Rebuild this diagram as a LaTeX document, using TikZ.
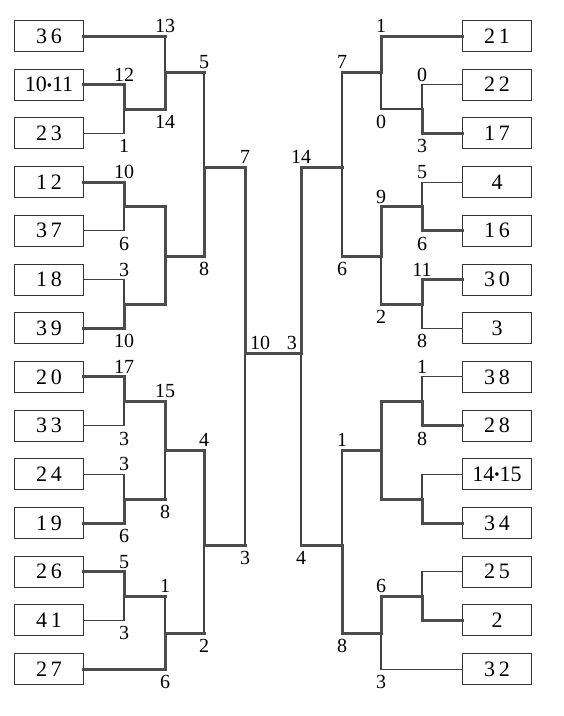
\documentclass[tikz,border=0pt]{standalone}
\usepackage{fontspec}
\setmainfont{Liberation Serif}
\usetikzlibrary{positioning, calc}

\newcommand{\joint}{{\fontsize{15}{15}\selectfont\raisebox{1.5pt}{•}}}

\begin{document}
\begin{tikzpicture}[x=1pt, y=-1pt,
    team/.style={draw=black!80, line width=0.9pt, minimum width=69pt,
      minimum height=31pt, inner sep=0pt, outer sep=0pt,
      font=\fontsize{22}{22}\selectfont},
    score/.style={inner sep=1pt, font=\fontsize{20}{20}\selectfont},
    win/.style={draw=black!70, line width=3pt, line cap=rect},
    lose/.style={draw=black!75, line width=1.1pt}]
  \useasboundingbox (0,0) rectangle (564,716);

  % left teams
  \node[team] (l1) at (49,36) {3\,6};
  \node[team, below=17.7pt of l1] (l2) {10\joint 11};
  \node[team, below=17.7pt of l2] (l3) {2\,3};
  \node[team, below=17.7pt of l3] (l4) {1\,2};
  \node[team, below=17.7pt of l4] (l5) {3\,7};
  \node[team, below=17.7pt of l5] (l6) {1\,8};
  \node[team, below=17.7pt of l6] (l7) {3\,9};
  \node[team, below=17.7pt of l7] (l8) {2\,0};
  \node[team, below=17.7pt of l8] (l9) {3\,3};
  \node[team, below=17.7pt of l9] (l10) {2\,4};
  \node[team, below=17.7pt of l10] (l11) {1\,9};
  \node[team, below=17.7pt of l11] (l12) {2\,6};
  \node[team, below=17.7pt of l12] (l13) {4\,1};
  \node[team, below=17.7pt of l13] (l14) {2\,7};

  % right teams
  \node[team] (r1) at (497,36) {2\,1};
  \node[team, below=17.7pt of r1] (r2) {2\,2};
  \node[team, below=17.7pt of r2] (r3) {1\,7};
  \node[team, below=17.7pt of r3] (r4) {4};
  \node[team, below=17.7pt of r4] (r5) {1\,6};
  \node[team, below=17.7pt of r5] (r6) {3\,0};
  \node[team, below=17.7pt of r6] (r7) {3};
  \node[team, below=17.7pt of r7] (r8) {3\,8};
  \node[team, below=17.7pt of r8] (r9) {2\,8};
  \node[team, below=17.7pt of r9] (r10) {14\joint 15};
  \node[team, below=17.7pt of r10] (r11) {3\,4};
  \node[team, below=17.7pt of r11] (r12) {2\,5};
  \node[team, below=17.7pt of r12] (r13) {2};
  \node[team, below=17.7pt of r13] (r14) {3\,2};

  % junctions
  \coordinate (la1) at (124,109);
  \coordinate (la2) at (124,206.5);
  \coordinate (la3) at (124,304);
  \coordinate (la4) at (124,401);
  \coordinate (la5) at (124,499);
  \coordinate (la6) at (124,596);
  \coordinate (lb1) at (165,72);
  \coordinate (lb2) at (165,256);
  \coordinate (lb3) at (165,450);
  \coordinate (lb4) at (165,633);
  \coordinate (lc1) at (204,167);
  \coordinate (lc2) at (204,545);
  \coordinate (ld) at (245,353);
  \coordinate (ra1) at (422,109);
  \coordinate (ra2) at (422,206.5);
  \coordinate (ra3) at (422,304);
  \coordinate (ra4) at (422,401);
  \coordinate (ra5) at (422,499);
  \coordinate (ra6) at (422,596);
  \coordinate (rb1) at (381,72);
  \coordinate (rb2) at (381,256);
  \coordinate (rb3) at (381,450);
  \coordinate (rb4) at (381,633);
  \coordinate (rc1) at (342,167);
  \coordinate (rc2) at (342,545);
  \coordinate (rd) at (301,353);

  % left half
  \draw[lose] (l1.east -| lb1) -- (lb1);
  \draw[win] (l1.east) -- (l1.east -| lb1);
  \draw[lose] (l3.east) -| (la1);
  \draw[win] (l2.east) -| (la1);
  \draw[win] (la1) -| (lb1);
  \draw[lose] (lb1 -| lc1) -- (lc1);
  \draw[win] (lb1) -- (lb1 -| lc1);
  \draw[lose] (l5.east) -| (la2);
  \draw[win] (l4.east) -| (la2);
  \draw[lose] (l6.east) -| (la3);
  \draw[win] (l7.east) -| (la3);
  \draw[win] (la2) -| (lb2);
  \draw[win] (la3) -| (lb2);
  \draw[win] (lb2) -| (lc1);
  \draw[win] (lc1) -| (ld);
  \draw[lose] (l9.east) -| (la4);
  \draw[win] (l8.east) -| (la4);
  \draw[lose] (l10.east) -| (la5);
  \draw[win] (l11.east) -| (la5);
  \draw[win] (la4) -| (lb3);
  \draw[lose] (la5 -| lb3) -- (lb3);
  \draw[win] (la5) -- (la5 -| lb3);
  \draw[win] (lb3) -| (lc2);
  \draw[lose] (lc2 -| ld) -- (ld);
  \draw[win] (lc2) -- (lc2 -| ld);
  \draw[lose] (l13.east) -| (la6);
  \draw[win] (l12.east) -| (la6);
  \draw[lose] (la6 -| lb4) -- (lb4);
  \draw[win] (la6) -- (la6 -| lb4);
  \draw[win] (l14.east) -| (lb4);
  \draw[lose] (lb4 -| lc2) -- (lc2);
  \draw[win] (lb4) -- (lb4 -| lc2);

  % right half
  \draw[lose] (r2.west) -| (ra1);
  \draw[lose] (ra1) -| (rb1);
  \draw[win] (r3.west) -| (ra1);
  \draw[win] (r1.west) -| (rb1);
  \draw[lose] (rb1 -| rc1) -- (rc1);
  \draw[win] (rb1) -- (rb1 -| rc1);
  \draw[lose] (r4.west) -| (ra2);
  \draw[win] (r5.west) -| (ra2);
  \draw[lose] (r7.west) -| (ra3);
  \draw[win] (r6.west) -| (ra3);
  \draw[win] (ra2) -| (rb2);
  \draw[lose] (ra3 -| rb2) -- (rb2);
  \draw[win] (ra3) -- (ra3 -| rb2);
  \draw[lose] (rb2 -| rc1) -- (rc1);
  \draw[win] (rb2) -- (rb2 -| rc1);
  \draw[win] (rc1) -| (rd);
  \draw[lose] (r8.west) -| (ra4);
  \draw[win] (r9.west) -| (ra4);
  \draw[lose] (r10.west) -| (ra5);
  \draw[win] (r11.west) -| (ra5);
  \draw[win] (ra4) -| (rb3);
  \draw[win] (ra5) -| (rb3);
  \draw[lose] (rb3 -| rc2) -- (rc2);
  \draw[win] (rb3) -- (rb3 -| rc2);
  \draw[lose] (r12.west) -| (ra6);
  \draw[win] (r13.west) -| (ra6);
  \draw[lose] (r14.west) -| (rb4);
  \draw[win] (ra6) -| (rb4);
  \draw[win] (rb4) -| (rc2);
  \draw[lose] (rc2 -| rd) -- (rd);
  \draw[win] (rc2) -- (rc2 -| rd);

  % final
  \draw[win] (ld) -- (rd);

  % scores, left
  \node[score, above=2pt] (s1) at (l1.east -| lb1) {13};
  \node[score, above=2pt] (s2) at (l2.east -| la1) {12};
  \node[score, below=5pt] (s3) at (l3.east -| la1) {1};
  \node[score, below=5pt] (s4) at (la1 -| lb1) {14};
  \node[score, above=2pt] (s5) at (lb1 -| lc1) {5};
  \node[score, above=2pt] (s6) at (l4.east -| la2) {10};
  \node[score, below=5pt] (s7) at (l5.east -| la2) {6};
  \node[score, above=2pt] (s8) at (l6.east -| la3) {3};
  \node[score, below=5pt] (s9) at (l7.east -| la3) {10};
  \node[score, below=5pt] (s10) at (lb2 -| lc1) {8};
  \node[score, above=2pt] (s11) at (lc1 -| ld) {7};
  \node[score, above=2pt] (s12) at (l8.east -| la4) {17};
  \node[score, below=5pt] (s13) at (l9.east -| la4) {3};
  \node[score, above=2pt] (s14) at (la4 -| lb3) {15};
  \node[score, below=5pt] (s15) at (la5 -| lb3) {8};
  \node[score, above=2pt] (s16) at (l10.east -| la5) {3};
  \node[score, below=5pt] (s17) at (l11.east -| la5) {6};
  \node[score, above=2pt] (s18) at (lb3 -| lc2) {4};
  \node[score, below=5pt] (s19) at (lc2 -| ld) {3};
  \node[score, above=2pt] (s20) at (l12.east -| la6) {5};
  \node[score, below=5pt] (s21) at (l13.east -| la6) {3};
  \node[score, above=2pt] (s22) at (la6 -| lb4) {1};
  \node[score, below=5pt] (s23) at (l14.east -| lb4) {6};
  \node[score, below=5pt] (s24) at (lb4 -| lc2) {2};
  \node[score, above right=2pt and 4pt] (s25) at (ld) {10};

  % scores, right
  \node[score, above=2pt] (t1) at (r1.west -| rb1) {1};
  \node[score, above=2pt] (t2) at (r2.west -| ra1) {0};
  \node[score, below=5pt] (t3) at (r3.west -| ra1) {3};
  \node[score, below=5pt] (t4) at (ra1 -| rb1) {0};
  \node[score, above=2pt] (t5) at (rb1 -| rc1) {7};
  \node[score, above=2pt] (t6) at (r4.west -| ra2) {5};
  \node[score, below=5pt] (t7) at (r5.west -| ra2) {6};
  \node[score, above=2pt] (t8) at (r6.west -| ra3) {11};
  \node[score, below=5pt] (t9) at (r7.west -| ra3) {8};
  \node[score, above=2pt] (t10) at (ra2 -| rb2) {9};
  \node[score, below=5pt] (t11) at (ra3 -| rb2) {2};
  \node[score, below=5pt] (t12) at (rb2 -| rc1) {6};
  \node[score, above=2pt] (t13) at (rc1 -| rd) {14};
  \node[score, above=2pt] (t14) at (r8.west -| ra4) {1};
  \node[score, below=5pt] (t15) at (r9.west -| ra4) {8};
  \node[score, above=2pt] (t16) at (rb3 -| rc2) {1};
  \node[score, below=5pt] (t17) at (rc2 -| rd) {4};
  \node[score, above=2pt] (t18) at (ra6 -| rb4) {6};
  \node[score, below=5pt] (t19) at (r14.west -| rb4) {3};
  \node[score, below=5pt] (t20) at (rb4 -| rc2) {8};
  \node[score, above left=2pt and 3pt] (t21) at (rd) {3};
\end{tikzpicture}
\end{document}
